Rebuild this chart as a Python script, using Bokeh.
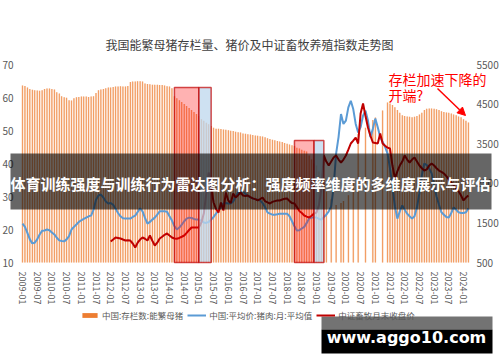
import pandas as pd
from bokeh.plotting import figure
from bokeh.models import (ColumnDataSource, Range1d, LinearAxis, FixedTicker, Label,
                          BoxAnnotation, Arrow, NormalHead, Legend, LegendItem)
from bokeh.embed import file_html
from bokeh.resources import INLINE

nan = float("nan")

# ---------------- data ----------------
start_month = "2009-01"
n_months = 183
months = pd.period_range(start_month, periods=n_months, freq="M").strftime("%Y-%m").tolist()

# 中国:存栏数:能繁母猪 (万头, right axis)
sow_stock = [
    4970, 4960, 4920, 4880, 4860, 4850, 4845, 4840, 4850, 4880, 4893, 4893,  # 2009
    4880, 4870, 4800, 4770, 4700, 4670, 4660, 4600, 4590, 4650, 4670, 4680,  # 2010
    4690, 4690, 4690, 4680, 4690, 4700, 4780, 4850, 4870, 4880, 4900, 4919,  # 2011
    4919, 4930, 4944, 4944, 4950, 4944, 4944, 4960, 5060, 5070, 5070, 5075,  # 2012
    5075, 5070, 5020, 5010, 5000, 4990, 4990, 4990, 4980, 4980, 4970, 4950,  # 2013
    4944, 4900, 4700, 4650, 4600, 4550, 4500, 4450, 4400, 4350, 4300, 4250,  # 2014
    4200, 4120, 4080, 4030, 3990, 3950, 3900, 3880, 3880, 3870, 3860, 3850,  # 2015
    3840, 3830, 3820, 3800, 3790, 3780, 3760, 3750, 3740, 3730, 3720, 3710,  # 2016
    3700, 3690, 3680, 3660, 3640, 3620, 3600, 3590, 3570, 3555, 3540, 3520,  # 2017
    3500, 3480, 3460, 3440, 3400, 3380, 3350, 3320, 3300, 3200, 3100, 3000,  # 2018
    2950, 2800, 2600, 2500, 2300, nan, 2100, nan, 1950, nan, 2000, 2050,     # 2019
    nan, 2200, nan, 2500, nan, 3750, nan, nan, 3900, nan, nan, 4100,         # 2020
    4160, nan, nan, 4340, nan, 4540, 4515, 4480, 4420, 4350, 4280, 4220,     # 2021
    4200, 4190, 4180, 4170, 4180, 4200, 4240, 4280, 4350, 4380, 4390, 4390,  # 2022
    4385, 4370, 4350, 4320, 4300, 4290, 4280, 4260, 4240, 4220, 4190, 4170,  # 2023
    4120, 4080, 4035,                                                        # 2024
]

# 中国:平均价:猪肉:月:平均值 (元/公斤, left axis)
pork_price = [
    21.8, 20.8, 19.0, 17.0, 15.8, 16.0, 17.0, 18.5, 19.6, 19.7, 20.0, 19.8,
    19.1, 18.5, 17.5, 16.7, 16.5, 16.4, 17.0, 18.0, 20.0, 20.8, 21.5, 22.3,
    22.8, 23.2, 23.6, 24.0, 24.2, 26.0, 29.0, 30.3, 30.6, 29.7, 28.5, 27.9,
    28.0, 27.5, 26.3, 25.0, 24.0, 23.4, 23.3, 23.3, 23.3, 23.8, 24.2, 25.3,
    26.4, 25.5, 23.5, 21.8, 22.3, 23.0, 23.6, 24.5, 25.5, 25.5, 25.5, 25.4,
    24.0, 22.7, 21.0, 20.0, 20.6, 21.5, 22.5, 23.3, 23.6, 23.5, 23.2, 23.0,
    23.0, 22.7, 22.1, 22.0, 22.3, 23.0, 23.8, 24.8, 25.8, 26.8, 27.9, 28.0,
    27.9, 27.9, 28.5, 30.0, 31.2, 31.8, 31.5, 30.8, 30.2, 29.7, 29.4, 29.2,
    29.0, 28.8, 28.0, 26.8, 25.2, 24.8, 24.5, 24.5, 24.6, 24.8, 24.8, 24.8,
    24.8, 24.0, 22.5, 21.0, 19.7, 19.8, 20.3, 20.8, 22.0, 23.3, 23.6, 23.6,
    23.6, 23.2, 23.0, 23.8, 24.5, 25.5, 27.0, 33.0, 43.0, 48.0, 55.0, 52.0,
    53.0, 57.0, 59.0, 56.5, 52.0, 49.4, 51.0, 54.5, 56.0, 53.0, 48.0, 50.5,
    53.6, 51.0, 48.0, 46.5, 45.0, 43.0, 38.5, 33.0, 27.0, 23.3, 25.5, 27.3,
    26.0, 24.8, 24.0, 23.3, 24.0, 26.7, 31.0, 36.5, 40.0, 39.5, 38.5, 37.0,
    33.5, 30.0, 27.5, 25.2, 24.5, 23.8, 23.6, 25.0, 26.7, 26.0, 25.2, 25.0,
    25.0, 25.2, 26.4,
]

# 中证畜牧月末收盘价 (right axis), starts 2012-01
csi_index = [nan] * 36 + [
    1030, 1080, 1131, 1120, 1106, 1080, 1055, 1060, 1055, 980, 879, 1000,    # 2012
    1080, 1131, 1100, 1055, 1182, 1050, 929, 1000, 1106, 1150, 1200, 1232,   # 2013
    1180, 1131, 1106, 1100, 1120, 1150, 1182, 1250, 1320, 1384, 1384, 1384,  # 2014
    1384, 1510, 1737, 2242, 2772, 2400, 2015, 1850, 1762, 2015, 1813, 2268,  # 2015
    2066, 2000, 2242, 2141, 2200, 2268, 2192, 2180, 2192, 2150, 2120, 2100,  # 2016
    2066, 2100, 2141, 2050, 2020, 1990, 2030, 2050, 2066, 2066, 2090, 2110,  # 2017
    2116, 2050, 2000, 1990, 1900, 1800, 1750, 1687, 1660, 1636, 1680, 1737,  # 2018
    1762, 1950, 2369, 3202, 3050, 2949, 3050, 3150, 3202, 3100, 3025, 3100,  # 2019
    3202, 3350, 3505, 3580, 3656, 3505, 4262, 4515, 4200, 3909, 3700, 3530,  # 2020
    3520, 3505, 3757, 3505, 3450, 3400, 3378, 2949, 2621, 2800, 2949, 3050,  # 2021
    3202, 3100, 3025, 3100, 3151, 3050, 2949, 2880, 2823, 2850, 2950, 3000,  # 2022
    2950, 2880, 2823, 2790, 2747, 2680, 2600, 2520, 2450, 2369, 2300, 2192,  # 2023
    2066, 2141, 2192,                                                        # 2024
]

# highlighted periods (red part then blue part)
box_start = ["2014-03", "2018-04"]
box_mid = ["2015-01", "2018-12"]
box_end = ["2015-06", "2019-04"]
box_top = [4920, 3580]

left_ticks = [10, 20, 30, 40, 50, 60, 70]
right_ticks = [500, 1500, 2500, 3500, 4500, 5500]
x_tick_labels = [
    "2009-01", "2009-07", "2010-01", "2010-07", "2011-01", "2011-07", "2012-01", "2012-07",
    "2013-01", "2013-07", "2014-01", "2014-07", "2015-01", "2015-07", "2016-01", "2016-07",
    "2017-01", "2017-07", "2018-01", "2018-07", "2019-01", "2019-07", "2020-01", "2020-07",
    "2021-01", "2021-07", "2022-01", "2022-07", "2023-01", "2023-07", "2024-01",
]

title_text = "我国能繁母猪存栏量、猪价及中证畜牧养殖指数走势图"
series_names = ["中国:存栏数:能繁母猪", "中国:平均价:猪肉:月:平均值", "中证畜牧月末收盘价"]
note_lines = ["存栏加速下降的", "开端?"]
banner_text = "体育训练强度与训练行为雷达图分析：强度频率维度的多维度展示与评估"
watermark_text = "www.aggo10.com"

# ---------------- layout (pixels of the 500x362 canvas, y downwards) ----------------
W, H = 500, 362
plot_left, plot_right = 21, 468      # pixel x of the value axes
plot_top, plot_bottom = 64, 262      # pixel y of top (70 / 5500) and bottom (10 / 500)
first_bar_px = 22                    # pixel x of month 0
px_per_month = 2.45

def xr(px):
    return (px - first_bar_px) / px_per_month

def sy(py):
    return H - py

lt, lb = left_ticks[-1], left_ticks[0]
rt, rb = right_ticks[-1], right_ticks[0]
lscale = (lt - lb) / (plot_bottom - plot_top)
rscale = (rt - rb) / (plot_bottom - plot_top)

CJK = "Noto Sans CJK SC"
idx = {m: i for i, m in enumerate(months)}
x = list(range(n_months))
src = ColumnDataSource(dict(x=x, sow=sow_stock, pork=pork_price, csi=csi_index))

p = figure(frame_width=W, frame_height=H, title=None,
           x_range=Range1d(xr(0), xr(W)),
           y_range=Range1d(lb - (H - plot_bottom) * lscale, lb + plot_bottom * lscale),
           output_backend="svg", toolbar_location=None,
           min_border_left=0, min_border_right=0, min_border_top=0, min_border_bottom=0,
           background_fill_color="white", border_fill_color="white", outline_line_color=None)
p.extra_y_ranges = {"right": Range1d(rb - (H - plot_bottom) * rscale, rb + plot_bottom * rscale)}
p.grid.visible = False

bars_pale = p.vbar(x="x", top="sow", bottom=rb, width=0.75, source=src, y_range_name="right",
                   fill_color="#F9D2B8", line_color=None)
bars_dark = p.vbar(x="x", top="sow", bottom=rb, width=0.25, source=src, y_range_name="right",
                   fill_color="#ED7D31", line_color=None)
blue = p.line(x="x", y="pork", source=src, line_color="#5B9BD5", line_width=2)
red = p.line(x="x", y="csi", source=src, y_range_name="right", line_color="#C00000", line_width=2)

box_src = ColumnDataSource(dict(
    l=[idx[m] for m in box_start], m=[idx[m] for m in box_mid], r=[idx[m] for m in box_end],
    t=box_top, b=[rb] * len(box_top)))
p.quad(left="l", right="m", top="t", bottom="b", source=box_src, y_range_name="right",
       fill_color="#FF0000", fill_alpha=0.3, line_color="#C00000", line_alpha=0.7, line_width=1.5)
p.quad(left="m", right="r", top="t", bottom="b", source=box_src, y_range_name="right",
       fill_color="#BDD7EE", fill_alpha=0.75, line_color="#C00000", line_alpha=0.7, line_width=1.5)

# axes (drawn at fixed positions inside the canvas)
p.yaxis.ticker = FixedTicker(ticks=left_ticks)
p.yaxis.fixed_location = xr(plot_left)
ax_r = LinearAxis(y_range_name="right", ticker=FixedTicker(ticks=right_ticks),
                  fixed_location=xr(plot_right))
p.add_layout(ax_r, "right")
for ax in [p.yaxis[0], ax_r]:
    ax.axis_line_color = None
    ax.major_tick_line_color = None
    ax.minor_tick_line_color = None
    ax.major_label_text_font = CJK
    ax.major_label_text_font_size = "10px"
    ax.major_label_text_color = "#595959"
    ax.major_label_standoff = 2
p.xaxis.ticker = FixedTicker(ticks=[idx[t] for t in x_tick_labels])
p.xaxis.major_label_overrides = {idx[t]: t for t in x_tick_labels}
p.xaxis.major_label_orientation = "vertical"
p.xaxis.fixed_location = lb
p.xaxis.axis_line_color = None
p.xaxis.major_tick_line_color = None
p.xaxis.minor_tick_line_color = None
p.xaxis.major_label_text_font = CJK
p.xaxis.major_label_text_font_size = "9px"
p.xaxis.major_label_text_color = "#595959"
p.xaxis.major_label_standoff = 3

legend = Legend(items=[LegendItem(label=series_names[0], renderers=[bars_dark]),
                       LegendItem(label=series_names[1], renderers=[blue]),
                       LegendItem(label=series_names[2], renderers=[red])],
                orientation="horizontal", location=(80, sy(321)),
                label_text_font=CJK, label_text_font_size="8.5px", label_text_color="#595959",
                glyph_width=19, glyph_height=6, label_standoff=3, spacing=4,
                padding=0, margin=0, border_line_color=None, background_fill_alpha=0)
p.add_layout(legend, "center")

# title
p.add_layout(Label(x=249, y=sy(44), x_units="screen", y_units="screen", text=title_text,
                   text_align="center", text_baseline="middle", text_font=CJK,
                   text_font_size="12px", text_color="#404040"))

# annotation
p.add_layout(Label(x=388, y=sy(78), x_units="screen", y_units="screen", text=note_lines[0],
                   text_align="left", text_baseline="middle", text_font=CJK,
                   text_font_size="14px", text_color="#FF0000"))
p.add_layout(Label(x=388, y=sy(94), x_units="screen", y_units="screen", text=note_lines[1],
                   text_align="left", text_baseline="middle", text_font=CJK,
                   text_font_size="14px", text_color="#FF0000"))
p.add_layout(Arrow(end=NormalHead(size=8, fill_color="#FF0000", line_color="#FF0000"),
                   x_start=437, y_start=sy(88), x_end=465, y_end=sy(115),
                   start_units="screen", end_units="screen",
                   line_color="#FF0000", line_width=1.5))

# banner overlay
p.add_layout(BoxAnnotation(left=10, right=491, top=sy(153), bottom=sy(209),
                           left_units="screen", right_units="screen",
                           top_units="screen", bottom_units="screen",
                           fill_color="black", fill_alpha=0.6, line_color=None))
p.add_layout(Label(x=250, y=sy(183), x_units="screen", y_units="screen", text=banner_text,
                   text_align="center", text_baseline="middle", text_font=CJK,
                   text_font_style="bold", text_font_size="15px", text_color="white"))

# watermark
p.add_layout(BoxAnnotation(left=321, right=492, top=sy(316), bottom=sy(329),
                           left_units="screen", right_units="screen",
                           top_units="screen", bottom_units="screen",
                           fill_color="black", fill_alpha=0.55, line_color=None))
p.add_layout(BoxAnnotation(left=321, right=492, top=sy(329), bottom=sy(353),
                           left_units="screen", right_units="screen",
                           top_units="screen", bottom_units="screen",
                           fill_color="black", fill_alpha=1.0, line_color=None))
p.add_layout(Label(x=406, y=sy(337), x_units="screen", y_units="screen", text=watermark_text,
                   text_align="center", text_baseline="middle", text_font="DejaVu Sans",
                   text_font_style="bold", text_font_size="16px", text_color="white"))

open("out.html", "w").write(file_html(p, INLINE))
